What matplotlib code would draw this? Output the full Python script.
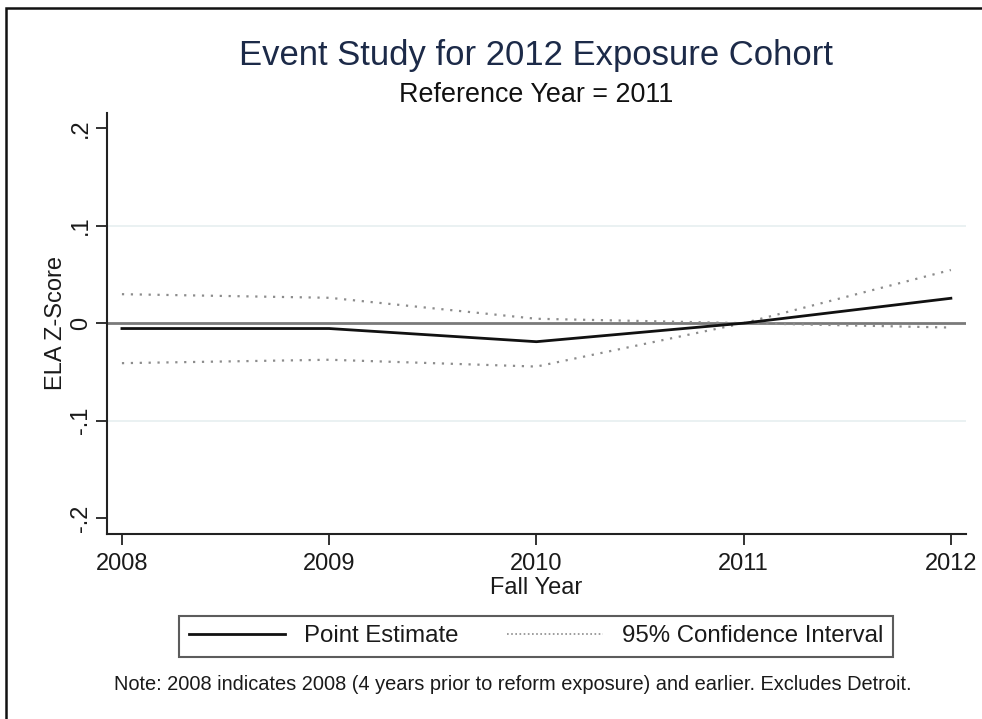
import matplotlib
matplotlib.use("Agg")
import matplotlib.pyplot as plt
from matplotlib.patches import Rectangle
from matplotlib.lines import Line2D

years = [2008, 2009, 2010, 2011, 2012]
point_estimate = [-0.0055, -0.0055, -0.0190, 0.0, 0.0255]
ci_upper = [0.0297, 0.0260, 0.0045, 0.0, 0.0545]
ci_lower = [-0.0410, -0.0375, -0.0445, 0.0, -0.0045]
yticks = [-0.2, -0.1, 0.0, 0.1, 0.2]
ytick_labels = ["-.2", "-.1", "0", ".1", ".2"]

plt.rcParams['font.family'] = ['Liberation Sans', 'DejaVu Sans']

fig = plt.figure(figsize=(9.82, 7.19), dpi=100)
W, H = 982, 719

# outer border (figure frame)
fig.patches.append(Rectangle((6 / W, -0.05), 1.1, (719 - 7.5) / H + 0.05,
                             transform=fig.transFigure, fill=False,
                             edgecolor='#111111', linewidth=1.8))

ax = fig.add_axes([107 / W, (H - 534) / H, (966 - 107) / W, (534 - 113) / H])
ax.set_xlim(2007.928, 2012.073)
ax.set_ylim(-0.2161, 0.2154)

for g in [-0.1, 0.1]:
    ax.axhline(g, color='#e6eff0', lw=1.2, zorder=1)
ax.axhline(0, color='#7a7a7a', lw=2.0, zorder=2)

ax.plot(years, point_estimate, color='#111111', lw=2.0, solid_joinstyle='round', zorder=4)
ax.plot(years, ci_upper, color='#8c8c8c', lw=1.6, linestyle=(0, (1, 3)), zorder=3)
ax.plot(years, ci_lower, color='#8c8c8c', lw=1.6, linestyle=(0, (1, 3)), zorder=3)

for s in ['top', 'right']:
    ax.spines[s].set_visible(False)
for s in ['left', 'bottom']:
    ax.spines[s].set_color('#222222')
    ax.spines[s].set_linewidth(1.5)

ax.set_xticks(years)
ax.set_xticklabels([str(y) for y in years], fontsize=17, color='#1a1a1a')
ax.set_yticks(yticks)
ax.set_yticklabels(ytick_labels, fontsize=17, color='#1a1a1a', rotation=90, va='center')
ax.tick_params(axis='both', length=8, width=1.3, color='#222222')
ax.tick_params(axis='x', pad=6)
ax.tick_params(axis='y', pad=3)

ax.set_xlabel("Fall Year", fontsize=17, color='#1a1a1a', labelpad=1)
ax.set_ylabel("ELA Z-Score", fontsize=17, color='#1a1a1a', labelpad=2)

fig.text(536 / W, 1 - 55 / H, "Event Study for 2012 Exposure Cohort", fontsize=24.9,
         color='#1c2a48', ha='center', va='center')
fig.text(536 / W, 1 - 95 / H, "Reference Year = 2011", fontsize=19.4,
         color='#111111', ha='center', va='center')

handles = [Line2D([], [], color='#111111', lw=2.0),
           Line2D([], [], color='#8c8c8c', lw=1.2, linestyle=(0, (1, 1.5)))]
leg = fig.legend(handles, ["Point Estimate", "95% Confidence Interval"],
                 loc='center', bbox_to_anchor=(536 / W, 1 - 636.5 / H), ncol=2,
                 fontsize=17.3, frameon=True, fancybox=False, handlelength=4.0,
                 handletextpad=0.8, columnspacing=2.0, borderpad=0.4,
                 borderaxespad=0)
leg.get_frame().set_edgecolor('#333333')
leg.get_frame().set_linewidth(1.5)
for t in leg.get_texts():
    t.set_color('#1a1a1a')

fig.text(513 / W, 1 - 684 / H,
         "Note: 2008 indicates 2008 (4 years prior to reform exposure) and earlier. Excludes Detroit.",
         fontsize=14.4, color='#1a1a1a', ha='center', va='center')

fig.savefig("out.png", dpi=100)
